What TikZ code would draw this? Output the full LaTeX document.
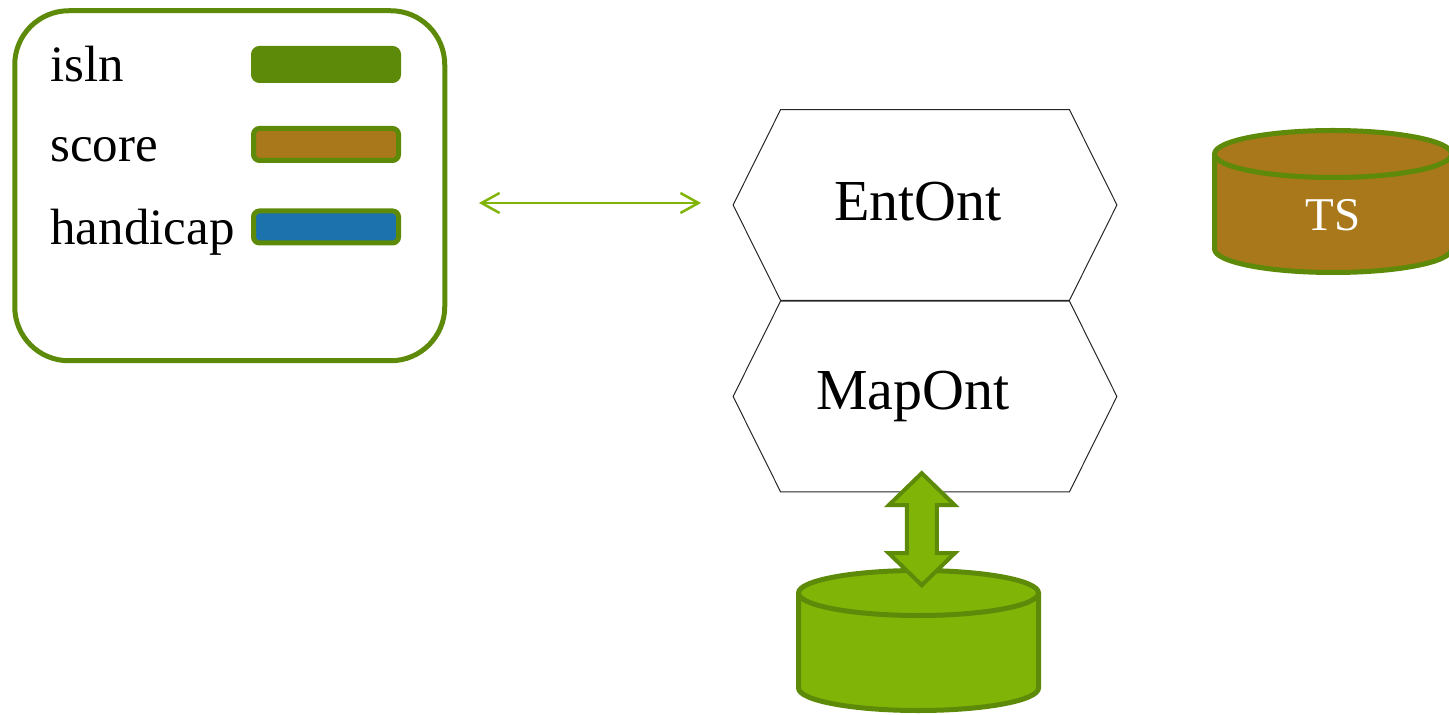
\documentclass[tikz,border=0pt]{standalone}
\usepackage{fontspec}
\setmainfont{Liberation Serif}
\usetikzlibrary{positioning,arrows.meta,calc}
\definecolor{leaf}{HTML}{5E8A0A}
\definecolor{lime}{HTML}{80B508}
\definecolor{ochre}{HTML}{A8781A}
\definecolor{sea}{HTML}{1B72AC}

\begin{document}
\begin{tikzpicture}[x=0.5pt,y=-0.5pt,
  panel/.style={draw=leaf,line width=2.5pt,rounded corners=27pt,minimum width=215pt,minimum height=175pt,inner sep=0pt},
  bar/.style={draw=leaf,line width=2.5pt,rounded corners=3pt,minimum width=72.5pt,minimum height=16pt,inner sep=0pt},
  lbl/.style={anchor=base west,font=\fontsize{25.5}{30}\selectfont,inner sep=0pt},
  onto/.style={minimum width=144pt,minimum height=95pt,inner sep=0pt,font=\fontsize{29}{34}\selectfont},
  hexline/.style={draw=black!85,line width=0.5pt},
  store/.style={draw=leaf,line width=2.5pt},
  link/.style={draw=lime,line width=1.25pt,{Straight Barb[length=9pt,width=10pt]}-{Straight Barb[length=9pt,width=10pt]}},
  bigarrow/.style={draw=leaf,fill=lime,line width=2pt,line join=miter}]
  \clip (0,0) rectangle (1449,715);

  % legend panel
  \node[panel] (legend) at (229.75,185.75) {};
  \node[lbl] (isln) at (50,82) {isln};
  \node[lbl] (score) at (50,162) {score};
  \node[lbl] (handicap) at (50,245) {handicap};
  \node[bar,fill=leaf] (islnbar) at (326,64.5) {};
  \node[bar,fill=ochre] (scorebar) at (326,144.5) {};
  \node[bar,fill=sea] (handicapbar) at (326,227) {};

  % link to the ontologies
  \coordinate (linkl) at (479,203);
  \coordinate (linkr) at (701,203);
  \draw[link] (linkl) -- (linkr);

  % ontology layers
  \node[onto] (ent) at (925,205) {\raisebox{4pt}{EntOnt}\hspace*{7pt}};
  \node[onto] (map) at (925,396.5) {MapOnt\hspace*{12pt}};
  \foreach \h in {ent,map}
    \draw[hexline] (\h.north west) -- (\h.north east) -- ($(\h.east)+(47.5,0)$)
      -- (\h.south east) -- (\h.south west) -- ($(\h.west)+(-47.5,0)$) -- cycle;

  % TS store
  \draw[store,fill=ochre] (1214.5,154) -- (1214.5,249)
    arc[start angle=180,end angle=0,x radius=118.5,y radius=23.5] -- (1451.5,154)
    arc[start angle=0,end angle=-180,x radius=118.5,y radius=23.5] -- cycle;
  \draw[store] (1214.5,154) arc[start angle=180,end angle=0,x radius=118.5,y radius=23.5];
  \node[text=white,font=\fontsize{23.5}{28}\selectfont] (ts) at (1333,215) {TS};

  % mapping store
  \draw[store,fill=lime] (798.5,593) -- (798.5,688)
    arc[start angle=180,end angle=0,x radius=120,y radius=22.5] -- (1038.5,593)
    arc[start angle=0,end angle=-180,x radius=120,y radius=22.5] -- cycle;
  \draw[store] (798.5,593) arc[start angle=180,end angle=0,x radius=120,y radius=22.5];
  \coordinate (db) at (918.5,570.5);

  % block arrow between MapOnt and the store
  \coordinate (dblink) at ($(map.south)!0.5!(db)$);
  \draw[bigarrow] ($(dblink)+(0,-58)$) -- ++(33,32) -- ++(-18,0) -- ++(0,48) -- ++(18,0)
    -- ++(-33,32) -- ++(-33,-32) -- ++(18,0) -- ++(0,-48) -- ++(-18,0) -- cycle;
\end{tikzpicture}
\end{document}
